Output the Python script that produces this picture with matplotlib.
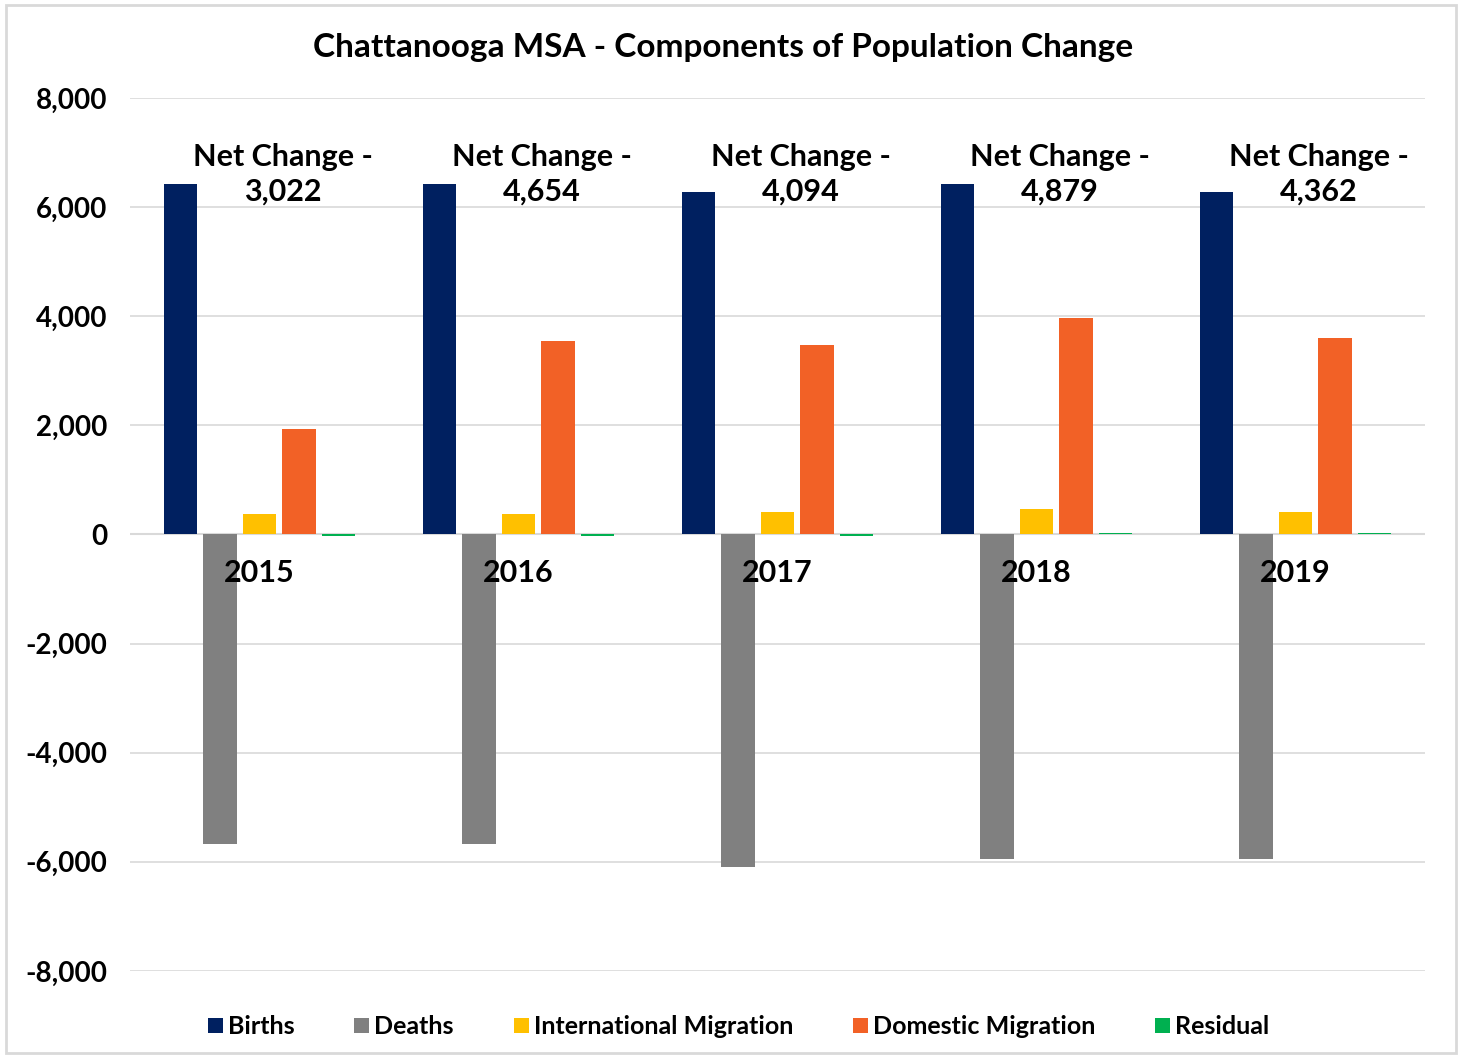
import matplotlib.pyplot as plt
import numpy as np
from matplotlib.patches import Rectangle

plt.rcParams["font.family"] = ["Lato", "DejaVu Sans"]

years = ["2015", "2016", "2017", "2018", "2019"]
series = ["Births", "Deaths", "International Migration", "Domestic Migration", "Residual"]
births = [6420, 6420, 6270, 6420, 6270]
deaths = [-5680, -5680, -6090, -5950, -5950]
intl_migration = [370, 370, 420, 460, 420]
domestic_migration = [1930, 3540, 3470, 3960, 3600]
residual = [-35, -35, -35, 35, 35]
net_change = ["3,022", "4,654", "4,094", "4,879", "4,362"]
colors = ["#002060", "#808080", "#FFC000", "#F26126", "#00B050"]

values = [births, deaths, intl_migration, domestic_migration, residual]

fig = plt.figure(figsize=(14.62, 10.57), dpi=100)
ax = fig.add_axes([0.0889, 0.0814, 0.8858, 0.8259])

# light border round the whole chart
fig.patches.append(Rectangle((0.004, 0.004), 0.992, 0.991, transform=fig.transFigure,
                             fill=False, edgecolor="#D9D9D9", linewidth=2))

x = np.arange(len(years))
pitch = 0.1525
width = 0.128
for i, (name, vals, c) in enumerate(zip(series, values, colors)):
    ax.bar(x + (i - 2) * pitch, vals, width=width, color=c, label=name, zorder=2)

ax.set_xlim(-0.5, len(years) - 0.5)
ax.set_ylim(-8000, 8000)
ax.set_yticks(range(-8000, 8001, 2000))
ax.set_yticklabels([f"{v:,}" for v in range(-8000, 8001, 2000)])
ax.yaxis.grid(True, color="#D9D9D9", linewidth=1.2, zorder=0)
ax.set_axisbelow(True)
ax.axhline(0, color="#D9D9D9", linewidth=1.5, zorder=1)
for s in ax.spines.values():
    s.set_visible(False)
ax.tick_params(axis="y", length=0, pad=16, labelsize=20)
ax.tick_params(axis="x", length=0)
ax.set_xticks([])
for lab in ax.get_yticklabels():
    lab.set_fontweight("bold")

# year labels just under the zero line
for xi, yr in zip(x, years):
    ax.text(xi, -700, yr, ha="center", va="center", fontsize=22, fontweight="bold", zorder=5)

# net change annotations
for xi, nc in zip(x, net_change):
    ax.text(xi + 0.09, 6600, f"Net Change -\n{nc}", ha="center", va="center",
            fontsize=22, fontweight="bold", linespacing=1.3, zorder=5)

fig.text(0.4945, 0.955, "Chattanooga MSA - Components of Population Change",
         ha="center", va="center", fontsize=24, fontweight="bold")

ax.legend(loc="upper center", bbox_to_anchor=(0.47, -0.025), ncol=5, frameon=False,
          handlelength=0.6, handleheight=0.6, handletextpad=0.2,
          columnspacing=2.4, prop={"weight": "bold", "size": 18})

fig.savefig("out.png", dpi=100)
